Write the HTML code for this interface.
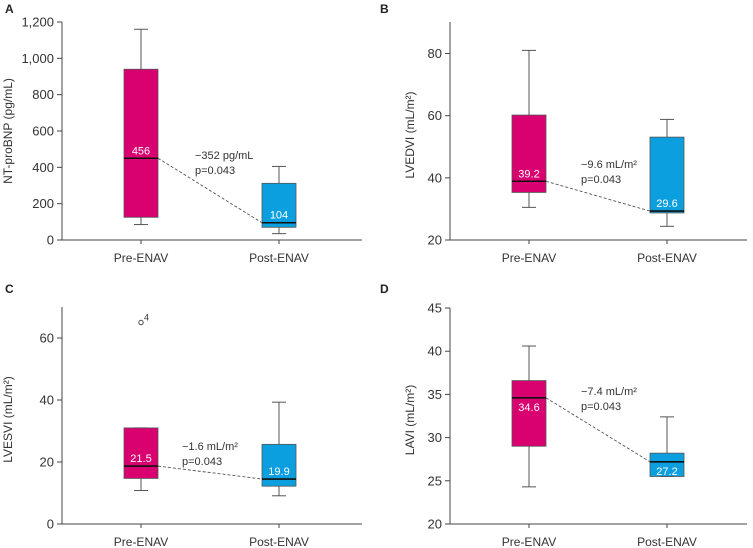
<!DOCTYPE html>
<html><head><meta charset="utf-8"><style>
html,body{margin:0;padding:0;background:#fff;width:753px;height:548px;overflow:hidden}
svg text{font-family:"Liberation Sans",sans-serif}
</style></head><body>
<svg id="c" width="753" height="548" viewBox="0 0 753 548"></svg>
<script>
const categories = ["Pre-ENAV","Post-ENAV"];
const panelLetters = ["A","B","C","D"];
const yTitles = ["NT-proBNP (pg/mL)","LVEDVI (mL/m²)","LVESVI (mL/m²)","LAVI (mL/m²)"];
const yTicksA = [0,200,400,600,800,1000,1200];
const yTickLabelsA = ["0","200","400","600","800","1,000","1,200"];
const yTicksB = [20,40,60,80];
const yTicksC = [0,20,40,60];
const yTicksD = [20,25,30,35,40,45];
// [min, q1, median, q3, max] per category
const boxesA = [[85,125,450,940,1160],[35,70,95,312,405]];
const boxesB = [[30.5,35.3,38.9,60.2,81],[24.4,28.7,29.3,53.1,58.8]];
const boxesC = [[10.8,14.7,18.7,31,31],[9.1,12.2,14.5,25.7,39.3]];
const boxesD = [[24.3,29,34.6,36.6,40.6],[25.5,25.5,27.2,28.2,32.4]];
const medianLabelsA = ["456","104"];
const medianLabelsB = ["39.2","29.6"];
const medianLabelsC = ["21.5","19.9"];
const medianLabelsD = ["34.6","27.2"];
const outliersC = [[0,65,"4"]];
const diffTexts = ["−352 pg/mL","−9.6 mL/m²","−1.6 mL/m²","−7.4 mL/m²"];
const pTexts = ["p=0.043","p=0.043","p=0.043","p=0.043"];

const NS="http://www.w3.org/2000/svg";
const svg=document.getElementById('c');
function mk(tag,attrs,parent,txt){const e=document.createElementNS(NS,tag);for(const k in attrs)e.setAttribute(k,attrs[k]);if(txt!==undefined)e.textContent=txt;(parent||svg).appendChild(e);return e;}

const panels=[
 {ax:62,top:22,bottom:240,right:362,ymin:0,ymax:1200,ytop:1200,ticks:yTicksA,tl:yTickLabelsA,boxes:boxesA,ml:medianLabelsA,mlPos:["above","above"],lx:5,ly:13,tx:195,ty:159,tix:12},
 {ax:450,top:22,bottom:240,right:747,ymin:20,ymax:80,ytop:90,y0px:240,y1px:53.5,ticks:yTicksB,boxes:boxesB,ml:medianLabelsB,mlPos:["above","above"],lx:380,ly:13,tx:581,ty:168,tix:414},
 {ax:62,top:307,bottom:524,right:362,ymin:0,ymax:60,ytop:70,y0px:524,y1px:338,ticks:yTicksC,boxes:boxesC,ml:medianLabelsC,mlPos:["above","above"],lx:5,ly:293,tx:182,ty:450,out:outliersC,tix:12},
 {ax:450,top:308,bottom:524,right:747,ymin:20,ymax:45,ytop:45,y0px:524,y1px:308,ticks:yTicksD,boxes:boxesD,ml:medianLabelsD,mlPos:["below","below"],lx:380,ly:293,tx:581,ty:395,tix:414}
];
const colors=["#d9006f","#0c9fe0"];
panels.forEach((p,i)=>{
  const g=mk('g',{},svg);
  
  
  const y0=p.y0px!==undefined?p.y0px:p.bottom, y1=p.y1px!==undefined?p.y1px:p.top;
  const ys=v=>y0+(v-p.ymin)/(p.ymax-p.ymin)*(y1-y0);
  const cx=[p.ax+79,p.ax+217];
  const L=mk('text',{x:p.lx,y:p.ly,'font-size':12,'font-weight':'bold',fill:'#222'},g,panelLetters[i]);
  
  const ya=mk('line',{x1:p.ax,y1:p.top,x2:p.ax,y2:p.bottom,stroke:'#444','stroke-width':1},g);
  
  const xa=mk('line',{x1:p.ax,y1:p.bottom,x2:p.right,y2:p.bottom,stroke:'#444','stroke-width':1},g);
  
  p.ticks.forEach((t,k)=>{
    const y=ys(t);
    mk('line',{x1:p.ax-5,y1:y,x2:p.ax,y2:y,stroke:'#444'},g);
    const tt=mk('text',{x:p.ax-8,y:y+4.5,'font-size':13,'text-anchor':'end',fill:'#333'},g,p.tl?p.tl[k]:String(t));
    
  });
  const yt=mk('text',{x:0,y:0,'font-size':12,'text-anchor':'middle',fill:'#333',transform:`translate(${p.tix},${(p.top+p.bottom)/2+ (i==0?0:4)}) rotate(-90)`},g,yTitles[i]);
  
  categories.forEach((c,k)=>{
    mk('line',{x1:cx[k],y1:p.bottom,x2:cx[k],y2:p.bottom+4,stroke:'#444'},g);
    const xl=mk('text',{x:cx[k],y:p.bottom+22,'font-size':12,'text-anchor':'middle',fill:'#333'},g,c);
    
  });
  const m0=ys(p.boxes[0][2]),m1=ys(p.boxes[1][2]);
  const dl=mk('line',{x1:cx[0]+17,y1:m0,x2:cx[1]-17,y2:m1,stroke:'#555','stroke-dasharray':'3,2','stroke-width':0.9},g);
  
  p.boxes.forEach((b,k)=>{
    const bg=mk('g',{},g);
    
    
    const x=cx[k],w=34;
    mk('line',{x1:x,y1:ys(b[0]),x2:x,y2:ys(b[1]),stroke:'#555'},bg);
    mk('line',{x1:x,y1:ys(b[3]),x2:x,y2:ys(b[4]),stroke:'#555'},bg);
    mk('line',{x1:x-7,y1:ys(b[0]),x2:x+7,y2:ys(b[0]),stroke:'#555'},bg);
    mk('line',{x1:x-7,y1:ys(b[4]),x2:x+7,y2:ys(b[4]),stroke:'#555'},bg);
    mk('rect',{x:x-w/2,y:ys(b[3]),width:w,height:Math.max(ys(b[1])-ys(b[3]),0.5),fill:colors[k],stroke:'#555','stroke-width':0.8},bg);
    mk('line',{x1:x-w/2,y1:ys(b[2]),x2:x+w/2,y2:ys(b[2]),stroke:'#111','stroke-width':1.6},bg);
    const ly=p.mlPos[k]=="above"?ys(b[2])-4:ys(b[2])+13;
    const ml=mk('text',{x:x,y:ly,'font-size':11,'text-anchor':'middle',fill:'#fff'},bg,p.ml[k]);
    
  });
  if(p.out){p.out.forEach(o=>{
    const oc=mk('circle',{cx:cx[o[0]],cy:ys(o[1]),r:2.2,fill:'none',stroke:'#444'},g);
    
    mk('text',{x:cx[o[0]]+3,y:ys(o[1])-2,'font-size':9,fill:'#333'},g,o[2]);
  });}
  const d=mk('text',{x:p.tx,y:p.ty,'font-size':11,fill:'#333'},g,diffTexts[i]);
  
  const pv=mk('text',{x:p.tx,y:p.ty+15,'font-size':11,fill:'#333'},g,pTexts[i]);
  
});
</script>
</body></html>
